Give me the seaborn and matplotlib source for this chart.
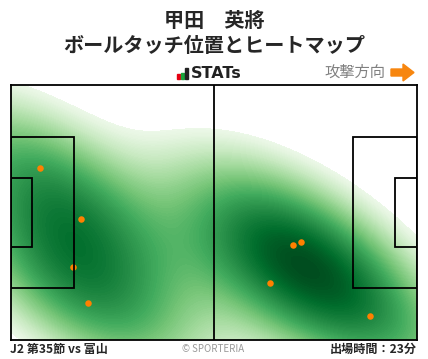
import matplotlib
matplotlib.use("Agg")
import matplotlib.pyplot as plt
import seaborn as sns
import numpy as np
import pandas as pd
from matplotlib.patches import Rectangle, Polygon

# ball touch positions (metres, x along 105 m pitch, y from top on 68 m)
touch_x = [7.7, 18.3, 16.2, 20.1, 73.1, 75.2, 67.2, 93.1]
touch_y = [22.3, 35.9, 48.7, 58.2, 42.8, 42.0, 52.9, 61.7]

player = "甲田　英將"
subtitle = "ボールタッチ位置とヒートマップ"
match_label = "J2 第35節 vs 富山"
minutes_label = "出場時間：23分"

sns.set_style("white")
plt.rcParams['font.family'] = ['Noto Sans CJK JP', 'DejaVu Sans']

W, H = 428, 359
fig = plt.figure(figsize=(W / 100, H / 100), dpi=100)
ax = fig.add_axes([10.5 / W, 19 / H, 406 / W, 255.5 / H])

df = pd.DataFrame({"x": touch_x, "y": touch_y})

# heat map: gaussian density of the touches over the pitch
sx, sy, r = 20.0, 16.0, 0.6
gx, gy = np.meshgrid(np.linspace(0, 105, 320), np.linspace(0, 68, 210))
inv = np.linalg.inv(np.array([[sx**2, r * sx * sy], [r * sx * sy, sy**2]]))
dens = np.zeros_like(gx)
for px, py in zip(df["x"], df["y"]):
    dx, dy = gx - px, gy - py
    dens += np.exp(-0.5 * (inv[0, 0] * dx**2 + 2 * inv[0, 1] * dx * dy + inv[1, 1] * dy**2))
dens = (dens / dens.max()) ** 0.55
ax.contourf(gx, gy, dens, levels=np.linspace(0.3, 1.0, 100), cmap="Greens",
            vmin=0.24, vmax=1.02, zorder=1)

sns.scatterplot(data=df, x="x", y="y", color="#ff8000", s=22, linewidth=0,
                zorder=3, ax=ax)

# pitch lines
lw = 1.3
kw = dict(fill=False, edgecolor="black", linewidth=lw, zorder=4)
ax.add_patch(Rectangle((0, 13.85), 16.5, 40.3, **kw))
ax.add_patch(Rectangle((0, 24.85), 5.5, 18.3, **kw))
ax.add_patch(Rectangle((88.5, 13.85), 16.5, 40.3, **kw))
ax.add_patch(Rectangle((99.5, 24.85), 5.5, 18.3, **kw))
ax.plot([52.5, 52.5], [0, 68], color="black", linewidth=lw, zorder=4)

ax.set_xlim(0, 105)
ax.set_ylim(68, 0)
ax.set_xticks([])
ax.set_yticks([])
ax.set_xlabel("")
ax.set_ylabel("")
for s in ax.spines.values():
    s.set_visible(True)
    s.set_color("black")
    s.set_linewidth(lw)
    s.set_zorder(5)

# header
fig.text(0.5, 1 - 20 / H, player, ha="center", va="center", fontsize=14.5,
         fontweight="bold")
fig.text(0.5, 1 - 45 / H, subtitle, ha="center", va="center", fontsize=14.5,
         fontweight="bold")

# STATs logo
for x0, h, c in [(177, 4, "#e60012"), (181, 6, "#1aa33b"), (185, 10, "#222222")]:
    fig.patches.append(Rectangle((x0 / W, 1 - 78.5 / H), 3 / W, h / H,
                                 transform=fig.transFigure, color=c))
fig.text(191 / W, 1 - 73.5 / H, "STATs", ha="left", va="center", fontsize=11.5,
         fontweight="bold", color="#222222", family="DejaVu Sans")

fig.text(385 / W, 1 - 72 / H, "攻撃方向", ha="right", va="center",
         fontsize=11, color="#808080")
arrow = [(391, 69), (403, 69), (403, 64), (414, 72.5), (403, 81), (403, 76),
         (391, 76)]
fig.patches.append(Polygon([(px / W, 1 - py / H) for px, py in arrow],
                           closed=True, transform=fig.transFigure,
                           color="#f7860f"))

# footer
fig.text(10 / W, 1 - 349.5 / H, match_label, ha="left", va="center",
         fontsize=8.7, fontweight="bold")
fig.text(213 / W, 1 - 348.5 / H, "© SPORTERIA", ha="center", va="center",
         fontsize=7, color="#999999")
fig.text(416.5 / W, 1 - 349.5 / H, minutes_label, ha="right", va="center",
         fontsize=8.7, fontweight="bold")

fig.savefig("out.png", dpi=100)
